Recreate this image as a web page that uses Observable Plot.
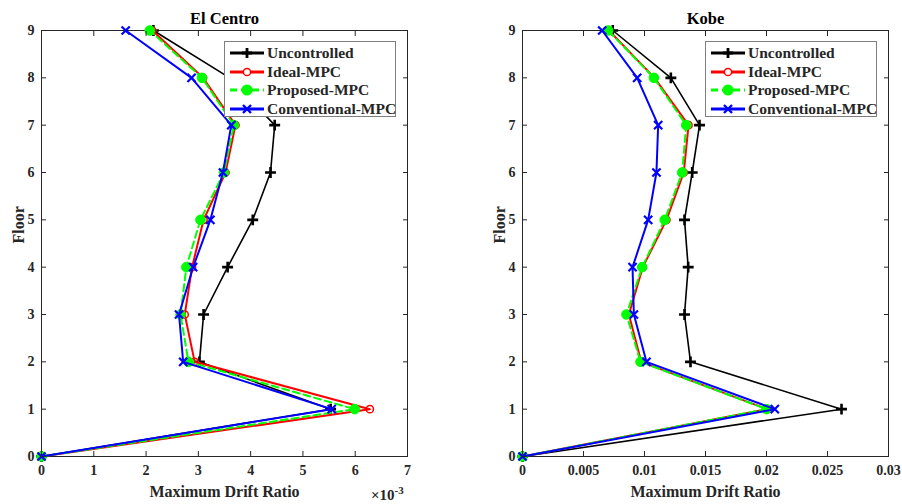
<!DOCTYPE html>
<html>
<head>
<meta charset="utf-8">
<script src="https://cdn.jsdelivr.net/npm/d3@7"></script>
<script src="https://cdn.jsdelivr.net/npm/@observablehq/plot@0.6"></script>
<style>
  body { margin: 0; background: #fff; }
  #wrap { position: relative; width: 902px; height: 504px; background: #fff; font-family: "Liberation Serif", "Times New Roman", serif; font-weight: bold; color: #262626; }
  #wrap > svg, #wrap > div.p { position: absolute; top: 0; }
  .legend { position: absolute; top: 41px; width: 172px; height: 76px; border: 1px solid #7f7f7f; background: #fff; box-sizing: border-box; font-size: 15.5px; }
  .legend .row { position: absolute; left: 0; height: 18px; display: flex; align-items: center; }
  .legend svg { display: block; }
  .legend span { margin-left: 2px; white-space: nowrap; }
  .expo { position: absolute; left: 371px; top: 484px; font-size: 15px; }
  .expo sup { font-size: 11px; }
</style>
</head>
<body>
<div id="wrap"></div>
<script>
// ---- data ----
const floors = [0, 1, 2, 3, 4, 5, 6, 7, 8, 9];
const seriesNames = ["Uncontrolled", "Ideal-MPC", "Proposed-MPC", "Conventional-MPC"];

// El Centro, maximum drift ratio in units of 1e-3
const elCentroUncontrolled  = [0, 5.53, 3.02, 3.10, 3.56, 4.04, 4.38, 4.46, 3.60, 2.14];
const elCentroIdeal         = [0, 6.28, 2.93, 2.74, 2.88, 3.10, 3.52, 3.71, 3.09, 2.12];
const elCentroProposed      = [0, 5.99, 2.81, 2.66, 2.77, 3.04, 3.49, 3.68, 3.07, 2.07];
const elCentroConventional  = [0, 5.55, 2.71, 2.63, 2.90, 3.23, 3.47, 3.63, 2.87, 1.61];

// Kobe, maximum drift ratio
const kobeUncontrolled  = [0, 0.02615, 0.01377, 0.01328, 0.01358, 0.01328, 0.01391, 0.01451, 0.01216, 0.00740];
const kobeIdeal         = [0, 0.02005, 0.00973, 0.00872, 0.00986, 0.01180, 0.01322, 0.01361, 0.01082, 0.00708];
const kobeProposed      = [0, 0.02000, 0.00967, 0.00852, 0.00981, 0.01166, 0.01309, 0.01342, 0.01077, 0.00702];
const kobeConventional  = [0, 0.02068, 0.01016, 0.00913, 0.00902, 0.01030, 0.01098, 0.01112, 0.00940, 0.00653];

const elCentroTicks = [0, 1, 2, 3, 4, 5, 6, 7];
const kobeTicks = [0, 0.005, 0.01, 0.015, 0.02, 0.025, 0.03];

// ---- styles ----
const styles = [
  {color: "#000000", width: 1.6, dash: null, symbol: "plus", r: 3.6, fill: "none", sw: 2.6},
  {color: "#ff0000", width: 2, dash: null, symbol: "circle", r: 3.6, fill: "none", sw: 1.5},
  {color: "#00ff00", width: 2, dash: "7,4", symbol: "circle", r: 4.8, fill: "#00ff00", sw: 1},
  {color: "#0000ff", width: 2, dash: null, symbol: "times", r: 3.8, fill: "none", sw: 2.2}
];

function makeRows(seriesArrays) {
  const rows = [];
  seriesArrays.forEach((arr, si) => {
    arr.forEach((v, i) => rows.push({series: seriesNames[si], si, x: v, floor: floors[i]}));
  });
  return rows;
}

function lineMarks(rows) {
  const marks = [];
  styles.forEach((s, si) => {
    const data = rows.filter(d => d.si === si);
    marks.push(Plot.line(data, {x: "x", y: "floor", stroke: s.color, strokeWidth: s.width, strokeDasharray: s.dash, curve: "linear"}));
    marks.push(Plot.dot(data, {x: "x", y: "floor", symbol: s.symbol, r: s.r, stroke: s.color, strokeWidth: s.sw, fill: s.fill}));
  });
  return marks;
}

function panel({rows, title, xDomain, xTicks, xFormat, marginLeft, marginRight}) {
  return Plot.plot({
    width: 451,
    height: 504,
    marginTop: 30,
    marginBottom: 48,
    marginLeft,
    marginRight,
    style: {fontFamily: "Liberation Serif, Times New Roman, serif", fontWeight: "bold", fontSize: "14px", color: "#262626", background: "transparent", overflow: "visible"},
    x: {domain: xDomain},
    y: {domain: [0, 9]},
    marks: [
      Plot.frame({stroke: "#262626", strokeWidth: 1}),
      ...lineMarks(rows),
      Plot.axisX(xTicks, {anchor: "bottom", tickSize: -5, tickPadding: 14, tickFormat: xFormat, label: null, fontSize: 14, stroke: "#262626"}),
      Plot.axisX(xTicks, {anchor: "top", tickSize: -5, text: null, label: null, stroke: "#262626"}),
      Plot.axisY(floors, {anchor: "left", tickSize: -5, tickPadding: 12, tickFormat: d => String(d), label: null, fontSize: 14, stroke: "#262626"}),
      Plot.axisY(floors, {anchor: "right", tickSize: -5, text: null, label: null, stroke: "#262626"}),
      Plot.text(["Maximum Drift Ratio"], {frameAnchor: "bottom", lineAnchor: "middle", dy: 35, fontSize: 16, fontWeight: "bold", fill: "#262626"}),
      Plot.text(["Floor"], {frameAnchor: "left", dx: -23, rotate: -90, fontSize: 16, fontWeight: "bold", fill: "#262626"}),
      Plot.text([title], {frameAnchor: "top", lineAnchor: "middle", dy: -12, fontSize: 16.5, fontWeight: "bold", fill: "black"})
    ]
  });
}

const wrap = document.getElementById("wrap");

const left = panel({
  rows: makeRows([elCentroUncontrolled, elCentroIdeal, elCentroProposed, elCentroConventional]),
  title: "El Centro",
  xDomain: [0, 7],
  xTicks: elCentroTicks,
  xFormat: d => String(d),
  marginLeft: 41,
  marginRight: 44
});
left.style.left = "0px";
wrap.appendChild(left);

const right = panel({
  rows: makeRows([kobeUncontrolled, kobeIdeal, kobeProposed, kobeConventional]),
  title: "Kobe",
  xDomain: [0, 0.03],
  xTicks: kobeTicks,
  xFormat: d => d === 0 ? "0" : String(+d.toFixed(3)),
  marginLeft: 71,
  marginRight: 14
});
right.style.left = "451px";
wrap.appendChild(right);

// legends
function legend(leftPx) {
  const box = document.createElement("div");
  box.className = "legend";
  box.style.left = leftPx + "px";
  const rowTops = [2, 21, 39, 58];
  styles.forEach((s, i) => {
    const row = document.createElement("div");
    row.className = "row";
    row.style.top = rowTops[i] + "px";
    const ns = "http://www.w3.org/2000/svg";
    const sv = document.createElementNS(ns, "svg");
    sv.setAttribute("width", "40"); sv.setAttribute("height", "18");
    const ln = document.createElementNS(ns, "line");
    ln.setAttribute("x1", "5"); ln.setAttribute("x2", "39"); ln.setAttribute("y1", "9"); ln.setAttribute("y2", "9");
    ln.setAttribute("stroke", s.color); ln.setAttribute("stroke-width", "3");
    if (s.dash) ln.setAttribute("stroke-dasharray", "7,4");
    sv.appendChild(ln);
    const cx = 22, cy = 9;
    if (s.symbol === "plus") {
      const p = document.createElementNS(ns, "path");
      p.setAttribute("d", `M${cx-5},${cy}H${cx+5}M${cx},${cy-5}V${cy+5}`);
      p.setAttribute("stroke", s.color); p.setAttribute("stroke-width", "2.8");
      sv.appendChild(p);
    } else if (s.symbol === "times") {
      const p = document.createElementNS(ns, "path");
      p.setAttribute("d", `M${cx-4},${cy-4}L${cx+4},${cy+4}M${cx-4},${cy+4}L${cx+4},${cy-4}`);
      p.setAttribute("stroke", s.color); p.setAttribute("stroke-width", "2.4");
      sv.appendChild(p);
    } else {
      const c = document.createElementNS(ns, "circle");
      c.setAttribute("cx", cx); c.setAttribute("cy", cy); c.setAttribute("r", s.r);
      c.setAttribute("stroke", s.color); c.setAttribute("stroke-width", "1.5");
      c.setAttribute("fill", s.fill === "none" ? "#fff" : s.fill);
      sv.appendChild(c);
    }
    row.appendChild(sv);
    const t = document.createElement("span");
    t.textContent = seriesNames[i];
    row.appendChild(t);
    box.appendChild(row);
  });
  wrap.appendChild(box);
}
legend(224);
legend(705);

const ex = document.createElement("div");
ex.className = "expo";
ex.innerHTML = "\u00d710<sup>-3</sup>";
wrap.appendChild(ex);
</script>
</body>
</html>
